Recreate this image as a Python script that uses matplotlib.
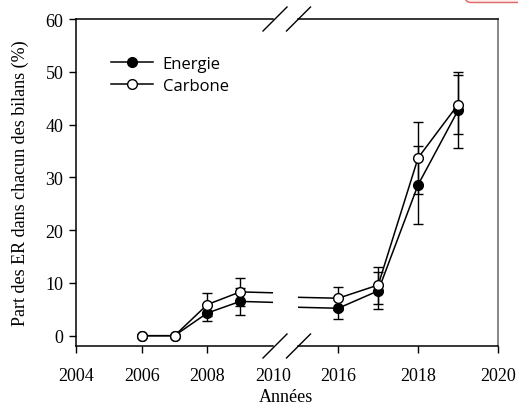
import matplotlib
matplotlib.use('Agg')
import matplotlib.pyplot as plt
from matplotlib.lines import Line2D
from matplotlib.patches import FancyBboxPatch
from matplotlib.transforms import IdentityTransform

years = [2006, 2007, 2008, 2009, 2016, 2017, 2018, 2019]
energie = [0, 0, 4.3, 6.5, 5.2, 8.5, 28.6, 42.7]
energie_err = [0, 0, 1.6, 2.5, 2.0, 3.5, 7.4, 7.2]
carbone = [0, 0, 5.9, 8.3, 7.1, 9.6, 33.7, 43.8]
carbone_err = [0, 0, 2.1, 2.6, 2.2, 3.5, 6.8, 5.6]

left_ticks = [2004, 2006, 2008, 2010]
right_ticks = [2016, 2018, 2020]
y_ticks = [0, 10, 20, 30, 40, 50, 60]

W, H = 518, 414
serif = 'Liberation Serif'
sans = 'Open Sans'


def box(x0, x1, y0, y1):
    # pixel box (top-left origin) -> figure fraction
    return [x0 / W, 1 - y1 / H, (x1 - x0) / W, (y1 - y0) / H]


fig = plt.figure(figsize=(W / 100, H / 100), dpi=100)
ax1 = fig.add_axes(box(76, 273, 20, 347))
ax2 = fig.add_axes(box(298.3, 498, 20, 347))

for ax in (ax1, ax2):
    ax.errorbar(years, energie, yerr=energie_err, fmt='none', ecolor='black',
                elinewidth=1, capsize=3.5, capthick=1, zorder=2)
    ax.errorbar(years, carbone, yerr=carbone_err, fmt='none', ecolor='black',
                elinewidth=1, capsize=3.5, capthick=1, zorder=2)
    ax.plot(years, energie, '-o', color='black', mfc='black', mec='black',
            ms=7, lw=1.1, mew=1, label='Energie', zorder=3)
    ax.plot(years, carbone, '-o', color='black', mfc='white', mec='black',
            ms=7, lw=1.1, mew=1, label='Carbone', zorder=4)
    ax.set_ylim(-1.95, 60)
    for s in ax.spines.values():
        s.set_linewidth(1.1)
    ax.tick_params(axis='both', direction='out', length=5, width=1,
                   labelsize=13)

ax1.set_xlim(2004, 2010)
ax1.set_xticks(left_ticks)
ax1.set_xticklabels([str(t) for t in left_ticks], fontfamily=serif, fontsize=13)
ax1.xaxis.get_major_ticks()[-1].tick1line.set_visible(False)
ax1.set_yticks(y_ticks)
ax1.set_yticklabels([str(t) for t in y_ticks], fontfamily=serif, fontsize=13)
ax1.spines['right'].set_visible(False)
ax1.tick_params(axis='y', pad=4)
ax1.tick_params(axis='x', pad=10)

ax2.set_xlim(2015, 2020)
ax2.set_xticks(right_ticks)
ax2.set_xticklabels([str(t) for t in right_ticks], fontfamily=serif, fontsize=13)
ax2.set_yticks([])
ax2.spines['left'].set_visible(False)
ax2.spines['right'].set_color('#666666')
ax2.tick_params(axis='x', pad=10)

ax1.legend(loc='upper left', bbox_to_anchor=(111 / W, 1 - 57 / H),
           bbox_transform=fig.transFigure, frameon=False, borderpad=0,
           borderaxespad=0, handlelength=2.5, handletextpad=0.6,
           labelspacing=0.35, prop={'family': sans, 'size': 12})

# break marks on the x axis, top and bottom
for yc in (20, 347):
    for xc in (275, 298.5):
        fig.add_artist(Line2D([(xc - 12) / W, (xc + 12) / W],
                              [1 - (yc + 12) / H, 1 - (yc - 12) / H],
                              color='black', lw=1, transform=fig.transFigure))

fig.text(20 / W, 1 - 183.5 / H, 'Part des ER dans chacun des bilans (%)',
         rotation=90, ha='center', va='center', fontfamily=serif, fontsize=13)
fig.text(286 / W, 1 - 398 / H, 'Années', ha='center', va='center',
         fontfamily=serif, fontsize=13)

fig.add_artist(FancyBboxPatch((465, H - 3.5), 80, 30,
                              boxstyle='round,pad=0,rounding_size=6',
                              fc='#fdecec', ec='#e06666', lw=1,
                              transform=IdentityTransform()))

fig.savefig('out.png', dpi=100)
